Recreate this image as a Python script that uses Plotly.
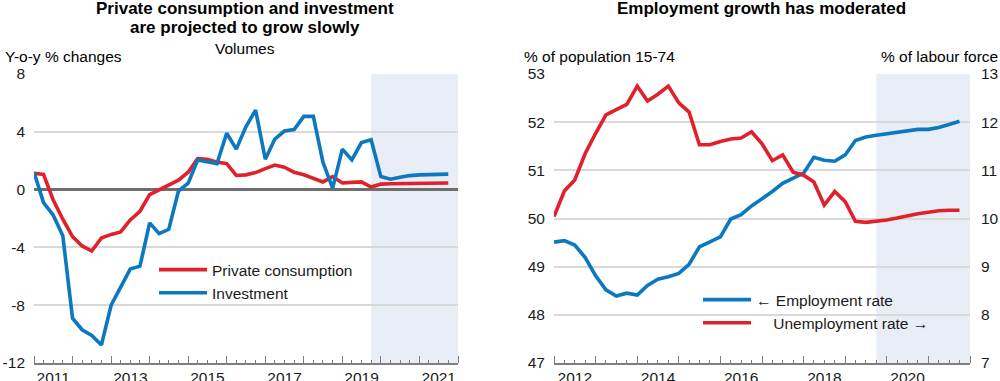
import plotly.graph_objects as go
import pandas as pd

# ---------------- Data ----------------
# Left panel: quarterly y-o-y % changes, 2011Q1-2021Q4
left_dates = pd.date_range("2011-01-01", periods=44, freq="QS")
private_consumption = [
    1.13, 1.05, -0.7, -2.05, -3.25, -3.9, -4.25, -3.35, -3.1, -2.93, -2.1, -1.5,
    -0.35, 0.0, 0.3, 0.65, 1.2, 2.15, 2.1, 1.9, 1.8, 0.98, 1.02, 1.18,
    1.45, 1.7, 1.55, 1.2, 1.03, 0.75, 0.53, 0.9, 0.46, 0.5, 0.53, 0.18,
    0.38, 0.41, 0.41, 0.43, 0.45, 0.46, 0.46, 0.46,
]
investment = [
    1.2, -0.9, -1.75, -3.2, -8.9, -9.7, -10.1, -10.75, -8.0, -6.7, -5.5, -5.3,
    -2.3, -3.05, -2.75, -0.1, 0.45, 2.05, 1.95, 1.8, 3.9, 2.8, 4.35, 5.5,
    2.1, 3.5, 4.05, 4.15, 5.07, 5.07, 1.9, 0.1, 2.8, 2.05, 3.25, 3.45,
    0.9, 0.72, 0.85, 0.97, 1.02, 1.03, 1.05, 1.07,
]
left_yticks = [-12, -8, -4, 0, 4, 8]
left_yticktext = ["-12", "-8", "-4", "0", "4", "8"]

# Right panel: quarterly, 2012Q1-2021Q4
right_dates = pd.date_range("2012-01-01", periods=40, freq="QS")
employment_rate = [
    49.51, 49.54, 49.45, 49.19, 48.81, 48.52, 48.39, 48.45, 48.41, 48.61, 48.74, 48.79,
    48.86, 49.05, 49.41, 49.52, 49.62, 49.99, 50.08, 50.26, 50.41, 50.56, 50.73, 50.83,
    50.94, 51.27, 51.21, 51.19, 51.32, 51.62, 51.69, 51.73, 51.76, 51.80, 51.82, 51.85,
    51.85, 51.89, 51.95, 52.02,
]
unemployment_rate = [
    10.04, 10.57, 10.8, 11.35, 11.77, 12.15, 12.26, 12.37, 12.75, 12.44, 12.58, 12.75,
    12.4, 12.21, 11.53, 11.53, 11.6, 11.65, 11.67, 11.8, 11.55, 11.2, 11.32, 10.96,
    10.9, 10.76, 10.28, 10.56, 10.35, 9.94, 9.92, 9.94, 9.97, 10.01, 10.06, 10.1,
    10.13, 10.16, 10.17, 10.17,
]

projection_start = "2019-10-01"
left_range = ["2011-01-01", "2022-01-01"]
right_range = ["2012-01-01", "2022-01-01"]

RED = "#E0202B"
BLUE = "#0B78C0"
SHADE = "#E9EDF6"
GRID = "#D9D9D9"
AXIS = "#7F7F7F"
FONT = "Liberation Sans, Arial, sans-serif"

W, H = 1000, 381
def px_x(v):
    return v / W
def px_y(v):
    return 1 - v / H

ydom = [px_y(363), px_y(74)]

fig = go.Figure()

fig.add_trace(go.Scatter(x=left_dates, y=private_consumption, name="Private consumption",
                         mode="lines", line=dict(color=RED, width=3.6),
                         xaxis="x", yaxis="y", legend="legend"))
fig.add_trace(go.Scatter(x=left_dates, y=investment, name="Investment",
                         mode="lines", line=dict(color=BLUE, width=3.6),
                         xaxis="x", yaxis="y", legend="legend"))
fig.add_trace(go.Scatter(x=right_dates, y=employment_rate, name="\u2190 Employment rate",
                         mode="lines", line=dict(color=BLUE, width=3.6),
                         xaxis="x2", yaxis="y3", legend="legend2"))
fig.add_trace(go.Scatter(x=right_dates, y=unemployment_rate,
                         name="\u00a0\u00a0\u00a0\u00a0Unemployment rate \u2192",
                         mode="lines", line=dict(color=RED, width=3.6),
                         xaxis="x2", yaxis="y4", legend="legend2"))

xcommon = dict(
    type="date", ticks="inside", ticklen=7, tickcolor=AXIS, tickwidth=1,
    dtick="M12", ticklabelmode="period", ticklabelstep=2, tickformat="%Y",
    showgrid=False, showline=True, linecolor=AXIS, linewidth=1.5,
    minor=dict(dtick="M3", ticks="inside", ticklen=3.5, tickcolor=AXIS, showgrid=False),
    tickfont=dict(size=15.5, color="#1a1a1a", family=FONT), zeroline=False,
    fixedrange=True, automargin=False, ticklabelstandoff=0,
)
ycommon = dict(
    showgrid=True, gridcolor=GRID, gridwidth=1.5, ticks="", showline=False,
    tickfont=dict(size=15.5, color="#1a1a1a", family=FONT), ticklabelstandoff=8,
    fixedrange=True, automargin=False,
)

fig.update_layout(
    width=W, height=H,
    margin=dict(l=0, r=0, t=0, b=0, pad=0, autoexpand=False),
    paper_bgcolor="white", plot_bgcolor="white",
    font=dict(family=FONT, size=15.5, color="#1a1a1a"),
    xaxis=dict(domain=[px_x(34), px_x(458)], range=left_range, anchor="y",
               tick0="2011-01-01", **xcommon),
    yaxis=dict(domain=ydom, range=[-12, 8], tickvals=left_yticks, ticktext=left_yticktext,
               anchor="x", zeroline=True, zerolinecolor="#6E6E6E", zerolinewidth=2.5,
               **ycommon),
    xaxis2=dict(domain=[px_x(554), px_x(970)], range=right_range, anchor="y3",
                tick0="2012-01-01", **xcommon),
    yaxis3=dict(domain=ydom, range=[47, 53], dtick=1, anchor="x2", zeroline=False,
                **ycommon),
    yaxis4=dict(range=[7, 13], dtick=1, overlaying="y3", side="right", anchor="x2",
                showgrid=False, zeroline=False, ticks="", showline=False,
                tickfont=dict(size=15.5, color="#1a1a1a", family=FONT),
                ticklabelstandoff=10, fixedrange=True, automargin=False),
    legend=dict(x=px_x(154), y=px_y(253), xanchor="left", yanchor="top",
                bgcolor="rgba(0,0,0,0)", font=dict(size=15.5, family=FONT),
                itemwidth=48, tracegroupgap=0),
    legend2=dict(x=px_x(698), y=px_y(283), xanchor="left", yanchor="top",
                 bgcolor="rgba(0,0,0,0)", font=dict(size=15.5, family=FONT),
                 itemwidth=48, tracegroupgap=0),
    showlegend=True,
)

# Projection shading
fig.add_shape(type="rect", xref="x", yref="y domain", x0=projection_start, x1=left_range[1],
              y0=0, y1=1, fillcolor=SHADE, line=dict(width=0), layer="below")
fig.add_shape(type="rect", xref="x2", yref="y3 domain", x0=projection_start, x1=right_range[1],
              y0=0, y1=1, fillcolor=SHADE, line=dict(width=0), layer="below")

# Titles and axis captions
ann = [
    dict(text="<b>Private consumption and investment</b>", x=px_x(245), y=px_y(8), size=17),
    dict(text="<b>are projected to grow slowly</b>", x=px_x(245), y=px_y(28), size=17),
    dict(text="Volumes", x=px_x(245), y=px_y(48), size=15.5),
    dict(text="<b>Employment growth has moderated</b>", x=px_x(761), y=px_y(8), size=17),
]
for a in ann:
    fig.add_annotation(text=a["text"], x=a["x"], y=a["y"], xref="paper", yref="paper",
                       xanchor="center", yanchor="middle", showarrow=False,
                       font=dict(size=a["size"], color="#000", family=FONT))
fig.add_annotation(text="Y-o-y % changes", x=px_x(3), y=px_y(56), xref="paper", yref="paper",
                   xanchor="left", yanchor="middle", showarrow=False,
                   font=dict(size=15.5, color="#000", family=FONT))
fig.add_annotation(text="% of population 15-74", x=px_x(522), y=px_y(56), xref="paper", yref="paper",
                   xanchor="left", yanchor="middle", showarrow=False,
                   font=dict(size=15.5, color="#000", family=FONT))
fig.add_annotation(text="% of labour force", x=px_x(1000), y=px_y(56), xref="paper", yref="paper",
                   xanchor="right", yanchor="middle", showarrow=False,
                   font=dict(size=15.5, color="#000", family=FONT))

fig.write_html(
    "out.html",
    config={"displayModeBar": False},
    post_script="document.body.style.margin='0';document.body.style.overflow='hidden';",
)
